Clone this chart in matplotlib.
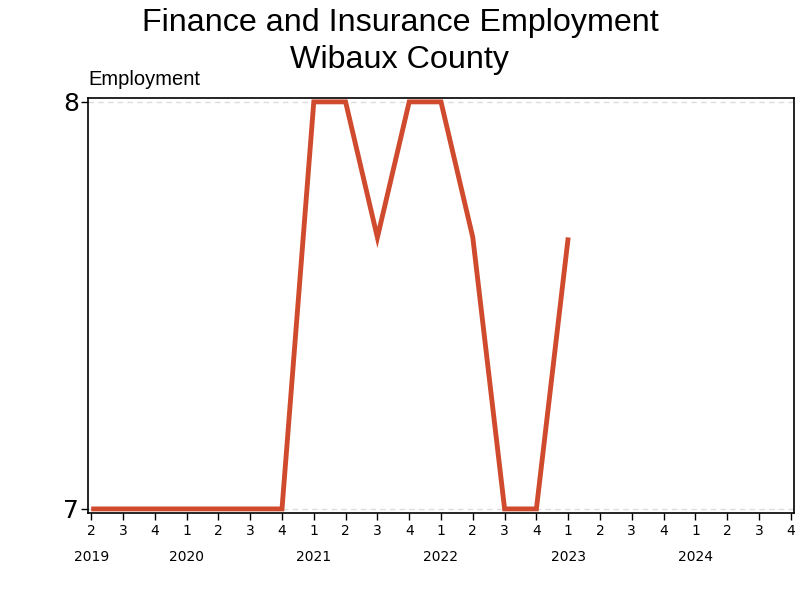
import matplotlib
matplotlib.use("Agg")
import matplotlib.pyplot as plt

quarters = ["2", "3", "4", "1", "2", "3", "4", "1", "2", "3", "4", "1",
            "2", "3", "4", "1", "2", "3", "4", "1", "2", "3", "4"]
years = ["2019", "2020", "2021", "2022", "2023", "2024"]
year_pos = [0, 3, 7, 11, 15, 19]
employment = [7, 7, 7, 7, 7, 7, 7, 8, 8, 7.667, 8, 8, 7.667, 7, 7, 7.667]

fig = plt.figure(figsize=(8, 6), dpi=100)
ax = fig.add_axes([0.11, 0.145, 0.8825, 0.692])
ax.set_facecolor("white")
x = list(range(len(employment)))
ax.plot(x, employment, color="#d04a2e", linewidth=3.5, solid_joinstyle="miter",
        solid_capstyle="butt", zorder=3)
ax.set_xlim(-0.1, 22.1)
ax.set_ylim(6.99, 8.01)
ax.set_yticks([7, 8])
ax.set_yticklabels(["7", "8"], fontsize=18)
ax.set_xticks(range(len(quarters)))
ax.set_xticklabels(quarters, fontsize=10)
for y in [7, 8]:
    ax.axhline(y, color="#dddddd", linestyle=(0, (4, 3)), linewidth=1, zorder=1)
for s in ax.spines.values():
    s.set_linewidth(1.2)
ax.tick_params(axis="x", length=5, width=1, pad=3)
ax.tick_params(axis="y", length=5, width=1, pad=1.5)
for yr, p in zip(years, year_pos):
    ax.text(p, -0.105, yr, transform=ax.get_xaxis_transform(), ha="center",
            va="center", fontsize=10)
fig.text(0.5, 0.962, "Finance and Insurance Employment", ha="center", va="center",
         fontsize=23.2, family="Liberation Sans")
fig.text(0.5, 0.900, "Wibaux County", ha="center", va="center", fontsize=23.2,
         family="Liberation Sans")
fig.text(0.11, 0.868, "Employment", ha="left", va="center", fontsize=14.5,
         family="Liberation Sans")
fig.savefig("out.png", dpi=100)
